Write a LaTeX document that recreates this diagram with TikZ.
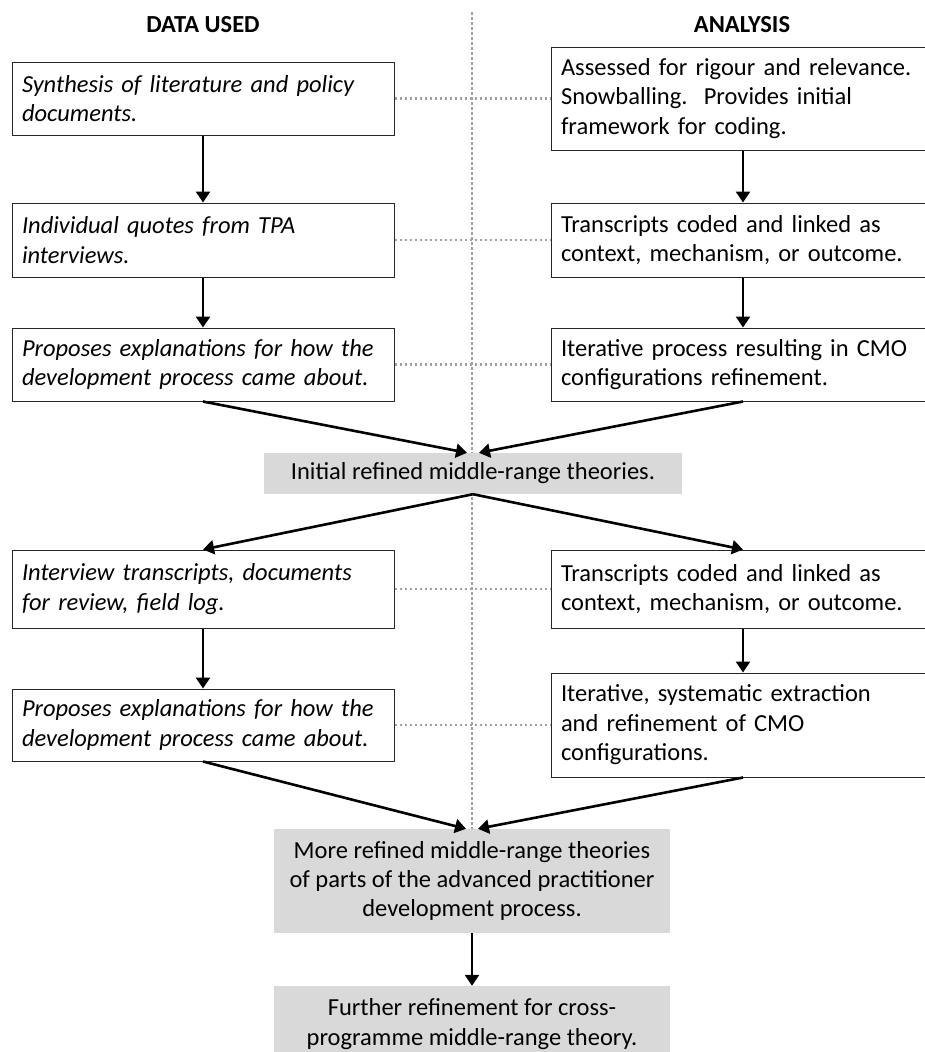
\documentclass[tikz,border=0pt]{standalone}
\usepackage{fontspec}
\setmainfont{Carlito}
\usepackage{xcolor}
\usepackage{tikz}
\usetikzlibrary{positioning, arrows.meta}
\definecolor{boxgray}{RGB}{217,217,217}
\definecolor{dotgray}{RGB}{160,160,160}

\begin{document}
\begin{tikzpicture}[x=1pt, y=-1pt, font=\fontsize{24.5}{29.4}\selectfont,
    leftbox/.style={draw=black!85, line width=1pt, fill=white, inner xsep=10pt, inner ysep=0pt,
      text width=362pt, minimum width=382pt, align=left, font=\fontsize{24.5}{29.4}\selectfont\itshape},
    rightbox/.style={draw=black!85, line width=1pt, fill=white, inner xsep=10pt, inner ysep=0pt,
      text width=364pt, minimum width=384pt, align=left},
    graybox/.style={fill=boxgray, inner xsep=6pt, inner ysep=0pt, align=center},
    arr/.style={-{Triangle[length=11pt,width=14pt]}, line width=2.6pt},
    link/.style={dotgray, line width=2.6pt, dash pattern=on 2.6pt off 2.4pt}]
		\useasboundingbox (0,0) rectangle (924,1052);

		% Centre divider
		\coordinate (top) at (472,12);
		\coordinate (mid) at (472,829);
		\draw[link] (top) -- (mid);

		% Headings
		\node (hdata) at (203,25) {\textbf{DATA USED}};
		\node (hana) at (742,25) {\textbf{ANALYSIS}};

		% First pass
		\node (l1) at (203,98.5) [leftbox, minimum height=73pt] {Synthesis of literature and policy\\documents.};
		\node (r1) at (743,98.5) [rightbox, minimum height=103pt] {Assessed for rigour and relevance.\\Snowballing.\ \ Provides initial\\framework for coding.};
		\node (l2) at (203,240) [leftbox, minimum height=74pt] {Individual quotes from TPA\\interviews.};
		\node (r2) at (743,240) [rightbox, minimum height=74pt] {Transcripts coded and linked as\\context, mechanism, or outcome.};
		\node (l3) at (203,364.5) [leftbox, minimum height=73pt] {Proposes explanations for how the\\development process came about.};
		\node (r3) at (743,364.5) [rightbox, minimum height=73pt] {Iterative process resulting in CMO\\configurations refinement.};

		\draw[link] (l1) -- (r1); \draw[link] (l2) -- (r2); \draw[link] (l3) -- (r3);
		\draw[arr] (l1) -- (l2); \draw[arr] (l2) -- (l3);
		\draw[arr] (r1) -- (r2); \draw[arr] (r2) -- (r3);

		\node (g1) at (473,473.5) [graybox, minimum width=418pt, minimum height=41pt] {Initial refined middle-range theories.};
		\draw[arr] (l3.south) -- ([xshift=-6pt]g1.north);
		\draw[arr] (r3.south) -- ([xshift=6pt]g1.north);

		% Second pass
		\node (l4) at (203,589) [leftbox, minimum height=78pt] {Interview transcripts, documents\\for review, field log.};
		\node (r4) at (743,589) [rightbox, minimum height=78pt] {Transcripts coded and linked as\\context, mechanism, or outcome.};
		\node (l5) at (203,725) [leftbox, minimum height=72pt] {Proposes explanations for how the\\development process came about.};
		\node (r5) at (743,725) [rightbox, minimum height=104pt] {Iterative, systematic extraction\\and refinement of CMO\\configurations.};

		\draw[arr] (g1.south) -- (l4.north);
		\draw[arr] (g1.south) -- (r4.north);
		\draw[link] (l4) -- (r4); \draw[link] (l5) -- (r5);
		\draw[arr] (l4) -- (l5); \draw[arr] (r4) -- (r5);

		\node (g2) at (472,881) [graybox, minimum width=396pt, minimum height=104pt] {More refined middle-range theories\\of parts of the advanced practitioner\\development process.};
		\draw[arr] (l5.south) -- ([xshift=-6pt]g2.north);
		\draw[arr] (r5.south) -- ([xshift=6pt]g2.north);

		\node (g3) at (472,1024) [graybox, minimum width=396pt, minimum height=76pt] {Further refinement for cross-\\programme middle-range theory.};
		\draw[arr] (g2) -- (g3);
	\end{tikzpicture}
\end{document}
